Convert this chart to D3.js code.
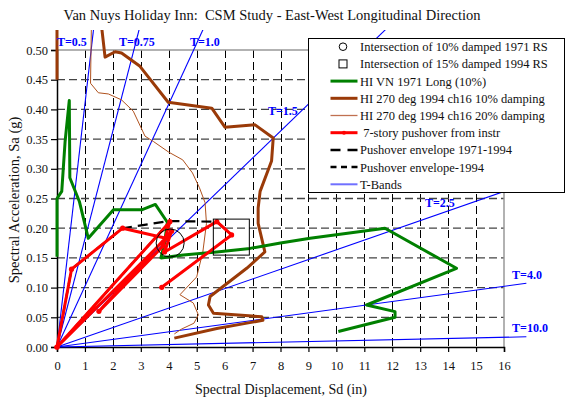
<!DOCTYPE html>
<html>
<head>
<meta charset="utf-8">
<script src="https://cdn.jsdelivr.net/npm/d3@7"></script>
<style>
  body { margin: 0; background: #fff; }
  svg { display: block; font-family: 'Liberation Serif', 'Times New Roman', serif; }
</style>
</head>
<body>
<div id="chart"></div>
<script>
// values, [Sd (in), Sa (g)]
const hiVn1971 = [[0, 0.152], [0, 0.25], [0.17, 0.262], [0.29, 0.346], [0.44, 0.415], [0.46, 0.285],
  [0.8, 0.245], [1.12, 0.183], [2.02, 0.231], [3.03, 0.231], [3.52, 0.24], [3.95, 0.21], [3.85, 0.175],
  [3.72, 0.15], [4.52, 0.155], [5.72, 0.16], [6.91, 0.166], [8.0, 0.175], [9.06, 0.183], [11.74, 0.2],
  [14.3, 0.1325], [11.08, 0.0707], [12.1, 0.0595], [12.1, 0.05], [10.07, 0.026]]

const hi270Damp10 = [[0, 0.45], [0, 0.6], [1.45, 0.6], [1.72, 0.488], [2.08, 0.497], [2.31, 0.495],
  [2.97, 0.4725], [3.98, 0.412], [5.54, 0.402], [6.01, 0.37], [7.09, 0.374], [7.74, 0.352], [7.68, 0.313],
  [7.27, 0.262], [7.2, 0.234], [7.2, 0.208], [7.44, 0.16], [6.79, 0.1325], [5.48, 0.085], [5.42, 0.0707],
  [5.6, 0.0567], [7.33, 0.051], [7.37, 0.045], [6.9, 0.041], [5.72, 0.031], [4.2, 0.015]]

const hi270Damp20 = [[1.25, 0.6], [1.2, 0.444], [1.48, 0.428], [1.84, 0.426], [2.31, 0.416], [2.73, 0.397],
  [3.15, 0.355], [3.45, 0.346], [4.0, 0.328], [4.5, 0.315], [4.85, 0.293], [5.1, 0.268], [5.3, 0.243],
  [5.35, 0.208], [5.22, 0.16], [5.0, 0.118], [4.4, 0.088], [4.88, 0.074], [5.06, 0.054], [4.9, 0.04],
  [4.45, 0.03], [4.2, 0.022]]

const pushover7 = [[0, 0], [0.52, 0.131], [2.35, 0.2], [3.9, 0.183], [0, 0], [4.04, 0.211], [3.8, 0.17],
  [1.5, 0.06], [4.1, 0.195], [3.85, 0.16], [5.72, 0.211], [6.25, 0.1886], [3.75, 0.1005]]

const envelope7194 = [[0, 0], [0.52, 0.131], [2.35, 0.2], [4.0, 0.212], [5.72, 0.211], [6.25, 0.189]]
const envelope94 = [[0, 0], [4.04, 0.211]]

const rs1971 = [4.05, 0.175]
const rs1994 = [6.24, 0.185]

const periods = [0.5, 0.75, 1.0, 1.5, 2.5, 4.0, 10.0]
const periodLabels = ['T=0.5', 'T=0.75', 'T=1.0', 'T=1.5', 'T=2.5', 'T=4.0', 'T=10.0']
const periodLabelAt = [[0, 0.507], [2.22, 0.507], [4.76, 0.507], [7.55, 0.391], [13.17, 0.236], [16.29, 0.1145], [16.29, 0.0258]]

const xTicks = d3.range(0, 17)
const yTicks = [0, 0.05, 0.1, 0.15, 0.2, 0.25, 0.3, 0.35, 0.4, 0.45, 0.5]

const width = 566
const height = 400
const G = 386.1 // in/s^2

const x = d3.scaleLinear().domain([0, 16]).range([57, 504])
const y = d3.scaleLinear().domain([0, 0.5]).range([347, 50])

const svg = d3.select('#chart').append('svg')
  .attr('width', width)
  .attr('height', height)

svg.append('defs').append('clipPath').attr('id', 'clip')
  .append('rect').attr('x', 40).attr('y', 30).attr('width', 490).attr('height', 320)

// grid
const grid = svg.append('g')
grid.selectAll('.vg').data(xTicks.slice(1, 16)).enter().append('line')
  .attr('x1', d => Math.round(x(d)) + 0.5).attr('x2', d => Math.round(x(d)) + 0.5)
  .attr('y1', y(0.5)).attr('y2', y(0))
  .attr('stroke', '#000').attr('stroke-width', 1).attr('stroke-dasharray', '8,4')
grid.selectAll('.hg').data(yTicks.slice(1, 10)).enter().append('line')
  .attr('x1', x(0)).attr('x2', x(16))
  .attr('y1', d => y(d)).attr('y2', d => y(d))
  .attr('stroke', '#444').attr('stroke-width', 1.3).attr('stroke-dasharray', '8,4')
grid.append('line')
  .attr('x1', x(0)).attr('x2', x(16)).attr('y1', y(0.5)).attr('y2', y(0.5))
  .attr('stroke', '#999').attr('stroke-width', 1.5)
grid.append('line')
  .attr('x1', x(16)).attr('x2', x(16)).attr('y1', y(0.5)).attr('y2', y(0))
  .attr('stroke', '#999').attr('stroke-width', 1.5)

// axes
const xAxis = svg.append('g')
  .attr('transform', `translate(0,${y(0)})`)
  .call(d3.axisBottom(x).tickValues(xTicks).tickFormat(d3.format('d')).tickSize(5).tickPadding(9))
const yAxis = svg.append('g')
  .attr('transform', `translate(${x(0)},0)`)
  .call(d3.axisLeft(y).tickValues(yTicks).tickFormat(d3.format('.2f')).tickSize(6).tickPadding(3))
;[xAxis, yAxis].forEach(a => {
  a.select('.domain').attr('stroke', '#000').attr('stroke-width', 1.5)
  a.selectAll('.tick line').attr('stroke', '#000').attr('stroke-width', 1.2)
  a.selectAll('.tick text').attr('font-family', 'Liberation Serif').attr('font-size', 12.5).attr('fill', '#111')
})

const plot = svg.append('g').attr('clip-path', 'url(#clip)')
const line = d3.line().x(d => x(d[0])).y(d => y(d[1]))

// T-bands
plot.selectAll('.tband').data(periods).enter().append('line')
  .attr('x1', x(0)).attr('y1', y(0))
  .attr('x2', T => x(Math.min(16.8, 0.54 / (4 * Math.PI * Math.PI / (T * T * G)))))
  .attr('y2', T => y(Math.min(16.8, 0.54 / (4 * Math.PI * Math.PI / (T * T * G))) * 4 * Math.PI * Math.PI / (T * T * G)))
  .attr('stroke', '#0000ff').attr('stroke-width', 1.1)

plot.append('path').datum(hi270Damp20).attr('d', line)
  .attr('fill', 'none').attr('stroke', '#b0521e').attr('stroke-width', 1)
plot.append('path').datum(hi270Damp10).attr('d', line)
  .attr('fill', 'none').attr('stroke', '#9a3a08').attr('stroke-width', 3).attr('stroke-linejoin', 'round')
plot.append('path').datum(hiVn1971).attr('d', line)
  .attr('fill', 'none').attr('stroke', '#008000').attr('stroke-width', 3).attr('stroke-linejoin', 'round')

plot.append('path').datum(envelope7194).attr('d', line)
  .attr('fill', 'none').attr('stroke', '#000').attr('stroke-width', 2.2).attr('stroke-dasharray', '10,6')
plot.append('path').datum(envelope94).attr('d', line)
  .attr('fill', 'none').attr('stroke', '#000').attr('stroke-width', 2.2).attr('stroke-dasharray', '5,4')

plot.append('path').datum(pushover7).attr('d', line)
  .attr('fill', 'none').attr('stroke', '#ff0000').attr('stroke-width', 3).attr('stroke-linejoin', 'round')
plot.selectAll('.pdot').data(pushover7).enter().append('circle')
  .attr('cx', d => x(d[0])).attr('cy', d => y(d[1])).attr('r', 2.6).attr('fill', '#ff0000')

plot.append('circle')
  .attr('cx', x(rs1971[0])).attr('cy', y(rs1971[1])).attr('r', 14)
  .attr('fill', 'none').attr('stroke', '#000').attr('stroke-width', 1)
plot.append('rect')
  .attr('x', x(rs1994[0]) - 18).attr('y', y(rs1994[1]) - 18).attr('width', 36).attr('height', 36)
  .attr('fill', 'none').attr('stroke', '#000').attr('stroke-width', 1)

// T labels
svg.selectAll('.tlab').data(periodLabels).enter().append('text')
  .attr('x', (d, i) => x(periodLabelAt[i][0]))
  .attr('y', (d, i) => y(periodLabelAt[i][1]))
  .attr('fill', '#0000ff').attr('font-weight', 'bold').attr('font-size', 12)
  .text(d => d)

// legend
const legendItems = [
  {label: 'Intersection of 10% damped 1971 RS', kind: 'circle'},
  {label: 'Intersection of 15% damped 1994 RS', kind: 'square'},
  {label: 'HI VN 1971 Long (10%)', kind: 'line', color: '#008000', w: 3},
  {label: 'HI 270 deg 1994 ch16 10% damping', kind: 'line', color: '#9a3a08', w: 3},
  {label: 'HI 270 deg 1994 ch16 20% damping', kind: 'line', color: '#c07050', w: 1.3},
  {label: ' 7-story pushover from instr', kind: 'dotline', color: '#ff0000', w: 3},
  {label: 'Pushover envelope 1971-1994', kind: 'line', color: '#000', w: 2.5, dash: '10,7'},
  {label: 'Pushover envelope-1994', kind: 'line', color: '#000', w: 2.5, dash: '6,4.5'},
  {label: 'T-Bands', kind: 'line', color: '#7070ff', w: 2}
]
const lg = svg.append('g')
lg.append('rect').attr('x', 308.5).attr('y', 38.5).attr('width', 256).attr('height', 154)
  .attr('fill', '#fff').attr('stroke', '#000').attr('stroke-width', 1)
const rows = lg.selectAll('.row').data(legendItems).enter().append('g')
  .attr('transform', (d, i) => `translate(0,${46.7 + i * 17.2})`)
rows.append('text').attr('x', 360).attr('y', 4.5).attr('font-size', 12.5).attr('fill', '#111')
  .attr('xml:space', 'preserve').style('white-space', 'pre').text(d => d.label)
rows.filter(d => d.kind === 'circle').append('circle')
  .attr('cx', 343).attr('cy', 0).attr('r', 3.8).attr('fill', 'none').attr('stroke', '#000')
rows.filter(d => d.kind === 'square').append('rect')
  .attr('x', 339).attr('y', -4).attr('width', 8).attr('height', 8).attr('fill', 'none').attr('stroke', '#000')
rows.filter(d => d.kind === 'line' || d.kind === 'dotline').append('line')
  .attr('x1', 330.5).attr('x2', 357.5).attr('y1', 0).attr('y2', 0)
  .attr('stroke', d => d.color).attr('stroke-width', d => d.w)
  .attr('stroke-dasharray', d => d.dash || null)
rows.filter(d => d.kind === 'dotline').append('circle')
  .attr('cx', 344).attr('cy', 0).attr('r', 2).attr('fill', '#ff0000')

// titles
svg.append('text').attr('x', 272).attr('y', 20).attr('text-anchor', 'middle')
  .attr('font-size', 14.5).attr('fill', '#111')
  .attr('xml:space', 'preserve').style('white-space', 'pre')
  .text('Van Nuys Holiday Inn:  CSM Study - East-West Longitudinal Direction')
svg.append('text').attr('x', 281).attr('y', 394).attr('text-anchor', 'middle')
  .attr('font-size', 14).attr('fill', '#111')
  .text('Spectral Displacement, Sd (in)')
svg.append('text').attr('transform', 'translate(19,200) rotate(-90)').attr('text-anchor', 'middle')
  .attr('font-size', 14.5).attr('fill', '#111')
  .text('Spectral Acceleration, Sa (g)')
</script>
</body>
</html>
